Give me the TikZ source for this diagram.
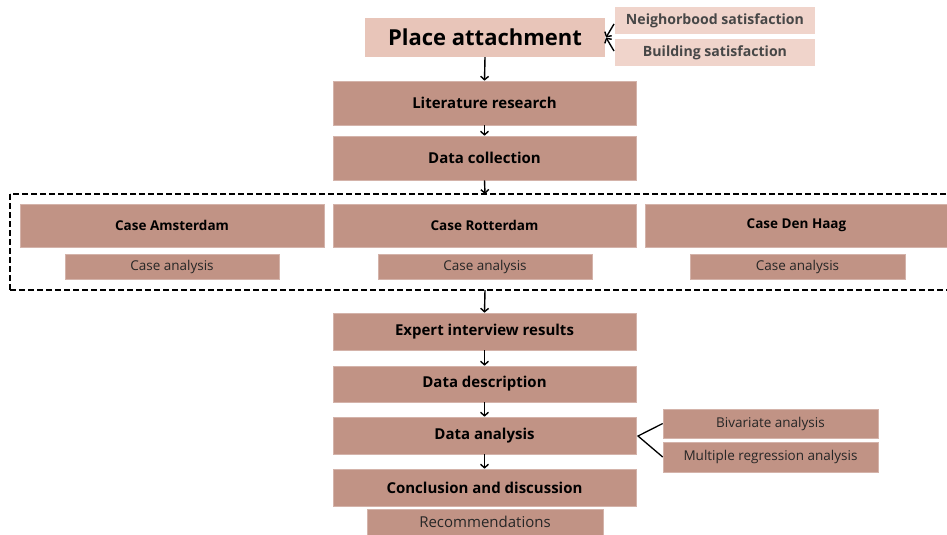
\documentclass[tikz,border=0pt]{standalone}
\usepackage{fontspec}
\setmainfont{Open Sans}
\usetikzlibrary{arrows.meta}
\definecolor{boxmain}{HTML}{C19385}
\definecolor{boxlight}{HTML}{E8C5B9}
\definecolor{boxpale}{HTML}{F0D4CB}
\definecolor{textgray}{HTML}{474747}
\begin{document}
\begin{tikzpicture}[x=1pt,y=-1pt,
  block/.style={fill=boxmain, draw=boxmain!70!white, line width=0.6pt, inner sep=0pt, align=center, font=\bfseries\fontsize{15}{18}\selectfont},
  caseblock/.style={block, font=\bfseries\fontsize{13.5}{16}\selectfont},
  subblock/.style={fill=boxmain, draw=boxmain!70!white, line width=0.6pt, inner sep=0pt, align=center, font=\fontsize{13.5}{16}\selectfont, text=black!85},
  sat/.style={fill=boxpale, inner sep=0pt, font=\bfseries\fontsize{14.1}{17}\selectfont, text=textgray},
  frame/.style={line width=1.4pt, dash pattern=on 6pt off 3pt},
  flow/.style={-{Straight Barb[length=3.5pt,width=8pt,line width=1.4pt]}, line width=1.4pt},
  link/.style={line width=1.3pt}]
\useasboundingbox (0,0) rectangle (947,535);

% header
\node[fill=boxlight, inner sep=0pt, minimum width=240pt, minimum height=39pt,
      font=\bfseries\fontsize{22}{26}\selectfont] (pa) at (485,37.5) {Place attachment};
\node[sat, minimum width=200pt, minimum height=27pt] (ns) at (715,20.5) {Neighorbood satisfaction};
\node[sat, minimum width=200pt, minimum height=27pt] (bs) at (715,52.5) {Building satisfaction};
\coordinate (nsA) at (614,24);
\coordinate (bsA) at (614,51);
\coordinate (paR) at (606,37.5);
\draw[flow] (nsA) -- (paR);
\draw[flow] (bsA) -- (paR);

% main chain
\node[block, minimum width=303pt, minimum height=44pt] (lit) at (484.5,103) {Literature research};
\node[block, minimum width=303pt, minimum height=44pt] (dc) at (484.5,158) {Data collection};

% cases frame (open to the right)
\draw[frame] (955,194) -- (10,194);
\draw[frame] (10,194) -- (10,290);
\draw[frame] (10,290) -- (955,290);
\coordinate (boxtop) at (485,194);
\coordinate (boxbot) at (485,290);

\node[caseblock, minimum width=304pt, minimum height=43pt] (ams) at (172,225.5) {Case Amsterdam};
\node[caseblock, minimum width=303pt, minimum height=43pt] (rot) at (484.5,225.5) {Case Rotterdam};
\node[caseblock, minimum width=303pt, minimum height=43pt] (dh) at (796.5,225.5) {Case Den Haag};
\node[subblock, minimum width=214pt, minimum height=25pt] (amsA) at (172,266.5) {Case analysis};
\node[subblock, minimum width=214pt, minimum height=25pt] (rotA) at (485,266.5) {Case analysis};
\node[subblock, minimum width=215pt, minimum height=25pt] (dhA) at (797.5,266.5) {Case analysis};

\node[block, minimum width=303pt, minimum height=37pt] (exp) at (484.5,331.5) {Expert interview results};
\node[block, minimum width=303pt, minimum height=36pt] (desc) at (484.5,384) {Data description};
\node[block, minimum width=303pt, minimum height=37pt] (ana) at (484.5,435.5) {Data analysis};
\node[block, minimum width=303pt, minimum height=37pt] (con) at (484.5,487.5) {Conclusion and discussion};
\node[subblock, minimum width=236pt, minimum height=26pt, font=\fontsize{15}{18}\selectfont] (rec) at (485,522) {Recommendations};

\node[subblock, minimum width=215pt, minimum height=29pt] (biv) at (770.5,423.5) {Bivariate analysis};
\node[subblock, minimum width=215pt, minimum height=30pt] (mul) at (770.5,457) {Multiple regression analysis};

% arrows
\draw[flow] (pa.south) -- (lit.north);
\draw[flow] (lit.south) -- (dc.north);
\draw[flow] (dc.south) -- (boxtop);
\draw[flow] (boxbot) -- (exp.north);
\draw[flow] (exp.south) -- (desc.north);
\draw[flow] (desc.south) -- (ana.north);
\draw[flow] (ana.south) -- (con.north);

% analysis branches
\coordinate (anaR) at (638,436);
\draw[link] (biv.west) -- (anaR) -- (mul.west);
\end{tikzpicture}
\end{document}
